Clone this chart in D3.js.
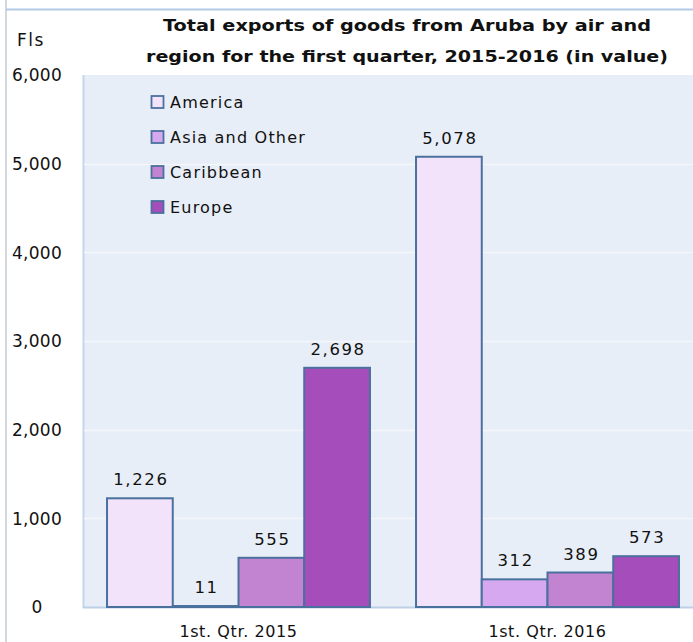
<!DOCTYPE html>
<html>
<head>
<meta charset="utf-8">
<script src="https://cdn.jsdelivr.net/npm/d3@7"></script>
<style>
  html, body { margin: 0; padding: 0; background: #ffffff; }
  svg { display: block; }
</style>
</head>
<body>
<svg id="chart" width="693" height="642"></svg>
<script>
const groups = ["1st. Qtr. 2015", "1st. Qtr. 2016"];
const seriesNames = ["America", "Asia and Other", "Caribbean", "Europe"];
const seriesColors = ["#F2E3FA", "#D5A8F0", "#C283D1", "#A64DBC"];
const america = [1226, 5078];
const asiaOther = [11, 312];
const caribbean = [555, 389];
const europe = [2698, 573];
const yTicks = [0, 1000, 2000, 3000, 4000, 5000, 6000];
const titleLines = ["Total exports of goods from Aruba  by air and", "region for the first quarter, 2015-2016 (in value)"];
const yUnit = "Fls";

const seriesValues = [america, asiaOther, caribbean, europe];
const data = groups.map((g, gi) => ({
  group: g,
  values: seriesNames.map((s, si) => ({ series: s, si: si, value: seriesValues[si][gi] }))
}));

const svg = d3.select("#chart");
const W = 693, H = 642;
const plot = { left: 84, right: 702, top: 75, bottom: 607 };

// frame lines
svg.append("line").attr("x1", 6).attr("x2", 6).attr("y1", 0).attr("y2", H)
  .attr("stroke", "#D3D8DE").attr("stroke-width", 2);
svg.append("line").attr("x1", 6).attr("x2", W).attr("y1", 9.5).attr("y2", 9.5)
  .attr("stroke", "#B3CAE6").attr("stroke-width", 2);

const y = d3.scaleLinear().domain([0, 6000]).range([plot.bottom, plot.top]);
const x0 = d3.scaleBand().domain(groups).range([plot.left, plot.right])
  .paddingInner(0.149).paddingOuter(0.0745);
const x1 = d3.scaleBand().domain(seriesNames).range([0, x0.bandwidth()]);
const color = d3.scaleOrdinal().domain(seriesNames).range(seriesColors);

// plot background
svg.append("rect").attr("x", plot.left - 1).attr("y", plot.top)
  .attr("width", plot.right - plot.left + 1).attr("height", plot.bottom - plot.top)
  .attr("fill", "#E8EEF7");
svg.append("line").attr("x1", plot.left - 0.5).attr("x2", plot.left - 0.5)
  .attr("y1", plot.top).attr("y2", plot.bottom + 1)
  .attr("stroke", "#C3D6EE").attr("stroke-width", 2);

// gridlines
svg.append("g").selectAll("line").data(yTicks.filter(t => t > 0 && t < 6000)).join("line")
  .attr("x1", plot.left).attr("x2", plot.right)
  .attr("y1", d => Math.round(y(d)) + 0.5).attr("y2", d => Math.round(y(d)) + 0.5)
  .attr("stroke", "#F3F6FB").attr("stroke-width", 1.5);

// y axis labels
const yAxis = d3.axisLeft(y).tickValues(yTicks).tickSize(0).tickFormat(d3.format(","));
const yg = svg.append("g").attr("transform", "translate(37,0)").call(yAxis);
yg.select(".domain").remove();
yg.selectAll("text")
  .attr("text-anchor", "middle").attr("x", 0).attr("dy", "0.35em")
  .attr("font-family", "DejaVu Sans, sans-serif").attr("font-size", 17)
  .attr("letter-spacing", 0.3).attr("fill", "#111");

// bottom axis line
svg.append("line").attr("x1", plot.left - 1).attr("x2", plot.right)
  .attr("y1", plot.bottom + 0.5).attr("y2", plot.bottom + 0.5)
  .attr("stroke", "#BBCFE7").attr("stroke-width", 2);

// x axis labels
const xAxis = d3.axisBottom(x0).tickSize(0);
const xg = svg.append("g").attr("transform", `translate(0,${plot.bottom})`).call(xAxis);
xg.select(".domain").remove();
xg.selectAll("text")
  .attr("y", 30).attr("dy", 0)
  .attr("font-family", "DejaVu Sans, sans-serif").attr("font-size", 16)
  .attr("letter-spacing", 0.6).attr("fill", "#111");

// bars
const gg = svg.append("g").selectAll("g").data(data).join("g")
  .attr("transform", d => `translate(${x0(d.group)},0)`);
gg.selectAll("rect").data(d => d.values).join("rect")
  .attr("x", d => x1(d.series))
  .attr("y", d => y(d.value))
  .attr("width", x1.bandwidth())
  .attr("height", d => y(0) - y(d.value))
  .attr("fill", d => color(d.series))
  .attr("stroke", "#4A719E").attr("stroke-width", 2);
gg.selectAll("text").data(d => d.values).join("text")
  .attr("x", d => x1(d.series) + x1.bandwidth() / 2 + 1)
  .attr("y", d => y(d.value) - 13)
  .attr("text-anchor", "middle")
  .attr("font-family", "DejaVu Sans, sans-serif").attr("font-size", 16.5)
  .attr("letter-spacing", 1.6).attr("fill", "#111")
  .text(d => d3.format(",")(d.value));

// legend
const lg = svg.append("g").selectAll("g").data(seriesNames).join("g")
  .attr("transform", (d, i) => `translate(151,${102 + i * 35})`);
lg.append("rect").attr("x", 0.5).attr("y", -6).attr("width", 12).attr("height", 12)
  .attr("fill", d => color(d)).attr("stroke", "#4A719E").attr("stroke-width", 1.8);
lg.append("text").attr("x", 19).attr("y", 0).attr("dy", "0.36em")
  .attr("font-family", "DejaVu Sans, sans-serif").attr("font-size", 16)
  .attr("letter-spacing", 1.2).attr("fill", "#111")
  .text(d => d);

// title
svg.append("g").selectAll("text").data(titleLines).join("text")
  .attr("x", 407).attr("y", (d, i) => 31 + i * 31)
  .attr("text-anchor", "middle")
  .attr("font-family", "DejaVu Sans, sans-serif").attr("font-weight", "bold")
  .attr("font-size", 16).attr("fill", "#111")
  .attr("textLength", (d, i) => i === 0 ? 488 : 522)
  .attr("lengthAdjust", "spacingAndGlyphs")
  .text(d => d);

// unit label
svg.append("text").attr("x", 17).attr("y", 46)
  .attr("font-family", "DejaVu Sans, sans-serif").attr("font-size", 17)
  .attr("letter-spacing", 1.5).attr("fill", "#111").text(yUnit);
</script>
</body>
</html>
